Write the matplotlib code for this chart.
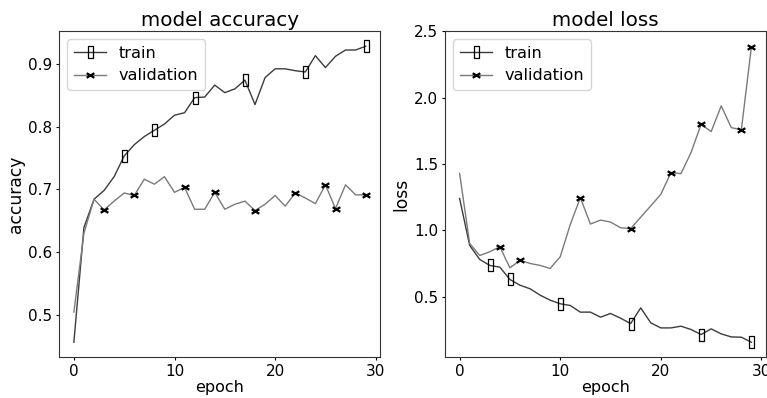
import matplotlib
matplotlib.use("Agg")
import matplotlib.pyplot as plt
from matplotlib.path import Path

# Training history (30 epochs)
epochs = list(range(30))

train_acc = [0.456, 0.639, 0.684, 0.698, 0.720, 0.753, 0.771, 0.784, 0.794, 0.804,
             0.818, 0.822, 0.846, 0.847, 0.866, 0.854, 0.860, 0.874, 0.835, 0.878,
             0.892, 0.892, 0.889, 0.887, 0.913, 0.894, 0.912, 0.922, 0.922, 0.928]
val_acc = [0.504, 0.630, 0.684, 0.667, 0.681, 0.694, 0.690, 0.716, 0.708, 0.720,
           0.695, 0.703, 0.668, 0.668, 0.695, 0.668, 0.676, 0.681, 0.666, 0.676,
           0.690, 0.673, 0.694, 0.686, 0.677, 0.707, 0.669, 0.707, 0.691, 0.691]

train_loss = [1.241, 0.887, 0.781, 0.736, 0.723, 0.630, 0.587, 0.560, 0.512, 0.474,
              0.447, 0.434, 0.384, 0.384, 0.346, 0.374, 0.338, 0.298, 0.416, 0.303,
              0.265, 0.265, 0.278, 0.253, 0.215, 0.258, 0.220, 0.197, 0.195, 0.157]
val_loss = [1.430, 0.902, 0.811, 0.839, 0.877, 0.718, 0.774, 0.751, 0.736, 0.713,
            0.801, 1.045, 1.247, 1.048, 1.078, 1.063, 1.020, 1.013, 1.100, 1.185,
            1.272, 1.436, 1.428, 1.587, 1.800, 1.745, 1.939, 1.775, 1.758, 2.384]

# Epochs carrying a marker on each curve
acc_train_marks = [5, 8, 12, 17, 23, 29]
acc_val_marks = [3, 6, 11, 14, 18, 22, 25, 26, 29]
loss_train_marks = [3, 5, 10, 17, 24, 29]
loss_val_marks = [4, 6, 12, 17, 21, 24, 28, 29]

legend_labels = ["train", "validation"]

# Narrow hollow box and flattened cross markers
box_marker = Path([(-0.2, -0.5), (0.2, -0.5), (0.2, 0.5), (-0.2, 0.5), (-0.2, -0.5)],
                  [Path.MOVETO, Path.LINETO, Path.LINETO, Path.LINETO, Path.CLOSEPOLY])
cross_marker = Path([(-0.5, -0.3), (0.5, 0.3), (-0.5, 0.3), (0.5, -0.3)],
                    [Path.MOVETO, Path.LINETO, Path.MOVETO, Path.LINETO])

train_color = "#3c3c3c"
val_color = "#7a7a7a"

plt.rcParams["font.family"] = ["DejaVu Sans"]

fig = plt.figure(figsize=(7.67, 3.98), dpi=100)
ax1 = fig.add_axes([0.0773, 0.103, 0.4185, 0.818])
ax2 = fig.add_axes([0.5802, 0.103, 0.4185, 0.818])


def draw(ax, train, val, tmarks, vmarks, title, ylabel):
    ax.plot(epochs, train, color=train_color, lw=1.0, marker=box_marker,
            markersize=9, markerfacecolor="none", markeredgecolor="black",
            markeredgewidth=0.9, markevery=tmarks, label=legend_labels[0])
    ax.plot(epochs, val, color=val_color, lw=1.0, marker=cross_marker,
            markersize=5.5, markeredgecolor="black", markeredgewidth=1.6,
            markevery=vmarks, label=legend_labels[1])
    ax.set_title(title, fontsize=14.3, pad=4)
    ax.set_xlabel("epoch", fontsize=11.5, labelpad=1)
    ax.set_ylabel(ylabel, fontsize=12.3, labelpad=2.5)
    ax.tick_params(labelsize=11, length=2.5, pad=2.5)
    ax.set_xticks([0, 10, 20, 30])
    ax.legend(loc="upper left", fontsize=11.6, handlelength=2.0,
              borderaxespad=0.5, labelspacing=0.45)
    for s in ax.spines.values():
        s.set_color("#333333")


draw(ax1, train_acc, val_acc, acc_train_marks, acc_val_marks, "model accuracy", "accuracy")
draw(ax2, train_loss, val_loss, loss_train_marks, loss_val_marks, "model loss", "loss")
ax1.set_yticks([0.5, 0.6, 0.7, 0.8, 0.9])
ax2.set_yticks([0.5, 1.0, 1.5, 2.0, 2.5])
ax1.set_xlim(-1.45, 30.45)
ax2.set_xlim(-1.45, 30.45)

fig.savefig("out.png", dpi=100)
